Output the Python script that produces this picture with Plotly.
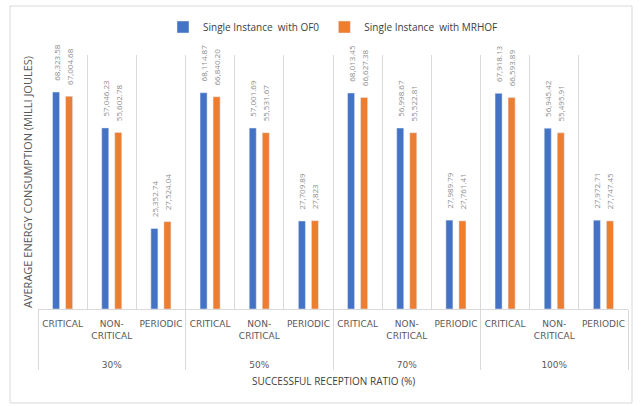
import plotly.graph_objects as go

groups = ["30%", "50%", "70%", "100%"]
subcats = ["CRITICAL", "NON-<br>CRITICAL", "PERIODIC"]
ofo_values = [68323.58, 57046.23, 25352.74,
              68114.87, 57001.69, 27709.89,
              68013.45, 56998.67, 27989.79,
              67918.13, 56945.42, 27972.71]
mrhof_values = [67004.68, 55602.78, 27524.04,
                66840.20, 55531.67, 27823.00,
                66627.38, 55522.81, 27761.41,
                66593.89, 55495.91, 27747.45]
series_names = ["Single Instance  with OF0", "Single Instance  with MRHOF"]

x_outer = ["<br><br>" + g for g in groups for _ in subcats]
x_inner = [s for _ in groups for s in subcats]


def fmt(v):
    s = f"{v:,.0f}" if float(v).is_integer() else f"{v:,.2f}"
    return "\u00a0\u00a0\u00a0\u00a0" + s


W, H = 643, 406
L, R, T, B = 38, 15, 55, 97
pw, ph = W - L - R, H - T - B


def px(x):
    return (x - L) / pw


def py(y):
    return (H - B - y) / ph


fig = go.Figure()
for name, vals, col in [(series_names[0], ofo_values, "#4472C4"),
                        (series_names[1], mrhof_values, "#ED7D31")]:
    fig.add_trace(go.Bar(
        x=[x_outer, x_inner], y=vals, name=name, marker_color=col,
        text=[fmt(v) for v in vals], textposition="outside", textangle=-90,
        textfont=dict(size=8, color="#8c8c8c", family="Open Sans"),
        constraintext="none", cliponaxis=False,
    ))

fig.update_layout(
    width=W, height=H,
    margin=dict(l=L, r=R, t=T, b=B),
    paper_bgcolor="white", plot_bgcolor="white",
    barmode="group", bargap=0.47, bargroupgap=0.46,
    font=dict(family="Open Sans", color="#595959"),
    legend=dict(orientation="h", x=0.5, xanchor="center", y=py(27), yanchor="middle",
                font=dict(size=10, color="#404040", family="Open Sans"),
                itemwidth=30, traceorder="normal"),
    showlegend=True,
)
fig.update_xaxes(
    type="multicategory", tickson="boundaries", showgrid=True, gridcolor="#d9d9d9",
    gridwidth=1, showline=True, linecolor="#d9d9d9", linewidth=1,
    showdividers=True, dividercolor="#d9d9d9", dividerwidth=1,
    tickfont=dict(size=9, color="#595959", family="DejaVu Sans"), ticks="",
    tickangle=0, mirror=False, ticklabelstandoff=6,
)
fig.update_yaxes(
    range=[0, 80000], showgrid=False, showticklabels=False, zeroline=False,
    showline=False,
    title=dict(text="AVERAGE ENERGY CONSUMPTION (MILLI JOULES)", standoff=2,
               font=dict(size=11, color="#595959", family="Open Sans")),
)
fig.add_annotation(text="SUCCESSFUL RECEPTION RATIO (%)", xref="paper", yref="paper",
                   x=px(333), y=py(381), yanchor="middle", showarrow=False,
                   font=dict(size=10, color="#404040", family="Open Sans"))
fig.add_shape(type="rect", xref="paper", yref="paper",
              x0=px(10), x1=px(632), y0=py(403), y1=py(6),
              line=dict(color="#d9d9d9", width=1), layer="below")

fig.write_html("out.html")
